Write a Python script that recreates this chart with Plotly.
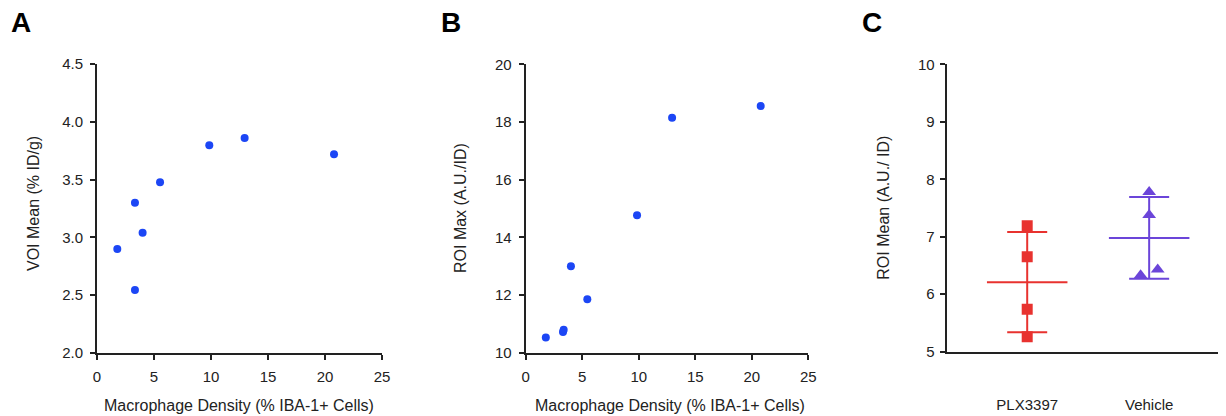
import numpy as np
import plotly.graph_objects as go

# panel A / B: macrophage density vs uptake
density = [1.78, 3.33, 3.33, 4.0, 5.53, 9.85, 12.95, 20.79]
voi_mean = [2.90, 3.30, 2.545, 3.04, 3.477, 3.797, 3.86, 3.72]
density_b = [1.78, 3.30, 3.36, 4.0, 5.45, 9.85, 12.95, 20.79]
roi_max = [10.53, 10.72, 10.80, 13.0, 11.85, 14.77, 18.15, 18.55]

# panel C: ROI mean by group
groups = ["PLX3397", "Vehicle"]
plx_vals = [7.19, 6.65, 5.74, 5.26]
veh_vals = [7.78, 7.38, 6.33, 6.43]
plx_jitter = [0, 0, 0, 0]
veh_jitter = [0, 0, -0.07, 0.07]

# page has an 8px body margin, so the figure is drawn 8px in from the top-left
OFF = 8
W, H = 1226, 416 - OFF
FONT = "Liberation Sans, Arial, sans-serif"
BLUE = "#1c46f5"
RED = "#e8322f"
PURPLE = "#6b45d9"
AXC = "#222222"


def px(x):
    return (x - OFF) / W


def py(y):
    return 1 - (y - OFF) / H


fig = go.Figure()

fig.add_trace(go.Scatter(
    x=density, y=voi_mean, mode="markers", xaxis="x", yaxis="y",
    marker=dict(color=BLUE, size=8), showlegend=False,
))
fig.add_trace(go.Scatter(
    x=density_b, y=roi_max, mode="markers", xaxis="x2", yaxis="y2",
    marker=dict(color=BLUE, size=8), showlegend=False,
))

for i, (vals, jit, color, sym) in enumerate([
    (plx_vals, plx_jitter, RED, "square"),
    (veh_vals, veh_jitter, PURPLE, "triangle-up"),
]):
    cx = i + 1
    m = float(np.mean(vals))
    sd = float(np.std(vals, ddof=1))
    fig.add_trace(go.Scatter(
        x=[cx - 0.33, cx + 0.33], y=[m, m], mode="lines", xaxis="x3", yaxis="y3",
        line=dict(color=color, width=2), showlegend=False,
    ))
    fig.add_trace(go.Scatter(
        x=[cx], y=[m], mode="markers", xaxis="x3", yaxis="y3",
        marker=dict(size=1, color="rgba(0,0,0,0)"),
        error_y=dict(type="data", array=[sd], color=color, thickness=2, width=20),
        showlegend=False,
    ))
    fig.add_trace(go.Scatter(
        x=[cx + j for j in jit], y=vals, mode="markers", xaxis="x3", yaxis="y3",
        marker=dict(color=color, size=11 if sym == "square" else 12, symbol=sym),
        showlegend=False,
    ))

axis_common = dict(
    showline=True, linecolor=AXC, linewidth=2, showgrid=False, zeroline=False,
    ticks="outside", ticklen=5, tickwidth=2, tickcolor=AXC, automargin=False,
    tickfont=dict(family=FONT, size=15, color=AXC),
)

fig.update_layout(
    width=W, height=H,
    margin=dict(l=0, r=0, t=0, b=0, pad=0, autoexpand=False),
    plot_bgcolor="white", paper_bgcolor="white",
    font=dict(family=FONT),
    xaxis=dict(domain=[px(97), px(382)], range=[0, 25], dtick=5,
               anchor="y", ticklabelstandoff=4, **axis_common),
    yaxis=dict(domain=[py(353), py(64)], range=[2, 4.5], dtick=0.5, tickformat=".1f",
               anchor="x", ticklabelstandoff=4, **axis_common),
    xaxis2=dict(domain=[px(525.7), px(808.3)], range=[0, 25], dtick=5,
                anchor="y2", ticklabelstandoff=4, **axis_common),
    yaxis2=dict(domain=[py(352.7), py(64.3)], range=[10, 20], dtick=2,
                anchor="x2", ticklabelstandoff=4, **axis_common),
    xaxis3=dict(domain=[px(946.7), px(1226)], range=[0.34, 2.63],
                tickvals=[1, 2], ticktext=groups, anchor="y3", automargin=False,
                showline=True, linecolor=AXC, linewidth=2, showgrid=False, zeroline=False,
                ticks="", ticklabelstandoff=38,
                tickfont=dict(family=FONT, size=15, color=AXC)),
    yaxis3=dict(domain=[py(351.7), py(64.3)], range=[5, 10], dtick=1,
                anchor="x3", ticklabelstandoff=2, **axis_common),
)

annos = [
    ("A", 9, 23, 28, True, 0),
    ("B", 439, 23, 28, True, 0),
    ("C", 860, 23, 28, True, 0),
    ("VOI Mean (% ID/g)", 33, 204, 16, False, -90),
    ("ROI Max (A.U./ID)", 460, 208, 16, False, -90),
    ("ROI Mean (A.U./ ID)", 882.7, 208, 16, False, -90),
    ("Macrophage Density (% IBA-1+ Cells)", 239, 405, 16, False, 0),
    ("Macrophage Density (% IBA-1+ Cells)", 670, 405, 16, False, 0),
]
for text, x, y, size, bold, angle in annos:
    fig.add_annotation(
        text=f"<b>{text}</b>" if bold else text,
        x=px(x), y=py(y), xref="paper", yref="paper",
        xanchor="left" if bold else "center", yanchor="middle",
        showarrow=False, textangle=angle,
        font=dict(family=FONT, size=size, color="black" if bold else AXC),
    )

fig.write_html("out.html")
